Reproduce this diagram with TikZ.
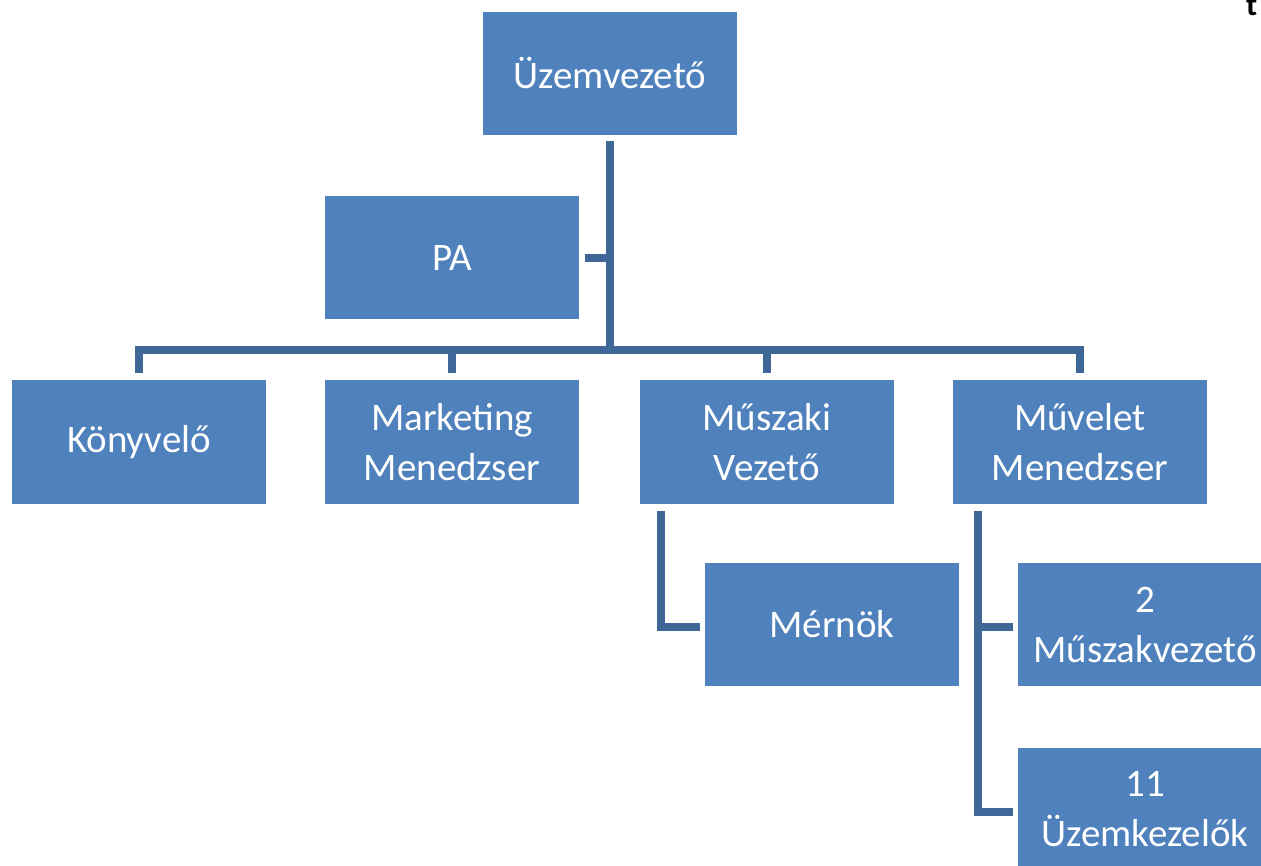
\documentclass[tikz,border=0pt]{standalone}
\usepackage{fontspec}
\setmainfont{Carlito}
\usetikzlibrary{calc}
\definecolor{boxblue}{RGB}{79,129,189}
\definecolor{lineblue}{RGB}{63,103,152}
\tikzset{
  orgbox/.style={fill=boxblue, draw=none, minimum width=254pt, minimum height=123pt,
    inner sep=0pt, text=white, align=center, font=\fontsize{39}{50}\selectfont},
  conn/.style={draw=lineblue, line width=8pt, line join=miter}
}
\begin{document}
\begin{tikzpicture}[x=1pt,y=-1pt]
\clip (0,0) rectangle (1261,866);
\fill[white] (0,0) rectangle (1261,866);
\node[orgbox] (top) at (610,73.5) {Üzemvezető};
\node[orgbox] (pa) at (452,258) {PA};
\node[orgbox] (kony) at (139,442) {Könyvelő};
\node[orgbox] (mark) at (452,442) {Marketing\\Menedzser};
\node[orgbox] (musz) at (767,442) {Műszaki\\Vezető};
\node[orgbox] (muv) at (1080,442) {Művelet\\Menedzser};
\node[orgbox] (mern) at (832,624.5) {Mérnök};
\node[orgbox] (ket) at (1145,624.5) {2\\Műszakvezető};
\node[orgbox] (tizen) at (1145,809.5) {11\\Üzemkezelők};
\node[anchor=base west, inner sep=0pt, font=\fontsize{32}{34}\selectfont\bfseries] (tfrag) at (1246,16) {t};
% trunk
\coordinate (bus) at ($(top.south)+(0,215)$);
\draw[conn] ($(top.south)+(0,6)$) -- (bus);
\draw[conn] ($(pa.east)+(6,0)$) -- (pa.east -| top.south);
\draw[conn] (bus) -| ($(kony.north)+(0,-7)$);
\draw[conn] (bus) -| ($(muv.north)+(0,-7)$);
\draw[conn] (bus -| mark.north) -- ($(mark.north)+(0,-7)$);
\draw[conn] (bus -| musz.north) -- ($(musz.north)+(0,-7)$);
% Muszaki -> Mernok
\draw[conn] ($(musz.south west)+(21,7)$) |- ($(mern.west)+(-5,2)$);
% Muvelet -> children
\draw[conn] ($(muv.south west)+(25.5,7)$) |- ($(tizen.west)+(-5,2)$);
\draw[conn] ($(muv.south west)+(25.5,7)$) |- ($(ket.west)+(-5,2)$);
\end{tikzpicture}
\end{document}
